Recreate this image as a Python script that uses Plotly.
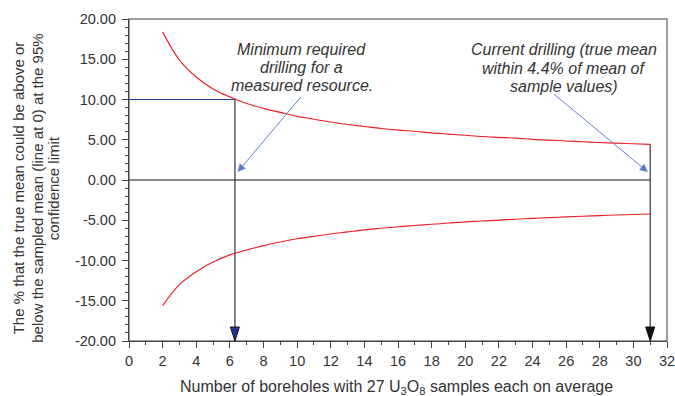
import plotly.graph_objects as go

# Data
boreholes = [2, 3, 4, 5, 6, 7, 8, 9, 10, 11, 12, 13, 14, 15, 16, 17, 18, 19, 20,
             21, 22, 23, 24, 25, 26, 27, 28, 29, 30, 31]
upper_pct = [18.4, 14.9, 12.8, 11.3, 10.3, 9.5, 8.9, 8.4, 7.9, 7.55, 7.2, 6.9, 6.65,
             6.4, 6.2, 6.05, 5.85, 5.7, 5.55, 5.4, 5.3, 5.2, 5.05, 4.95, 4.85, 4.75,
             4.65, 4.58, 4.5, 4.42]
lower_pct = [-15.6, -13.0, -11.4, -10.2, -9.3, -8.7, -8.15, -7.7, -7.3, -7.0, -6.7,
             -6.45, -6.2, -6.0, -5.8, -5.65, -5.5, -5.35, -5.2, -5.1, -4.98, -4.87,
             -4.77, -4.67, -4.58, -4.5, -4.42, -4.35, -4.28, -4.22]
min_boreholes = 6.3
min_pct = 10.0
current_boreholes = 31
current_pct = 4.42

x_ticks = list(range(0, 33, 2))
y_ticks = [-20, -15, -10, -5, 0, 5, 10, 15, 20]
y_ticktext = ["%.2f" % v for v in y_ticks]

ann1_lines = ["Minimum required", "drilling for a", "measured resource."]
ann2_lines = ["Current drilling (true mean", "within 4.4% of mean of", "sample values)"]
y_title_lines = ["The % that the true mean could be above or",
                 "below the sampled mean (line at 0) at the 95%",
                 "confidence limit"]
x_title = "Number of boreholes with 27 U<sub>3</sub>O<sub>8</sub> samples each on average"

RED = "#ee1c25"
DARK = "#333333"
NAVY = "#27348b"
LBLUE = "#5b80c8"
FONT = "Liberation Sans, Arial, sans-serif"

fig = go.Figure()

# zero line
fig.add_trace(go.Scatter(x=[0, current_boreholes], y=[0, 0], mode="lines",
                         line=dict(color="#111111", width=1), hoverinfo="skip"))
# blue horizontal to min requirement
fig.add_trace(go.Scatter(x=[0, min_boreholes], y=[min_pct, min_pct], mode="lines",
                         line=dict(color=NAVY, width=1.2), hoverinfo="skip"))
# vertical drop lines
fig.add_trace(go.Scatter(x=[min_boreholes, min_boreholes], y=[min_pct, -20], mode="lines",
                         line=dict(color=DARK, width=1.2), hoverinfo="skip"))
fig.add_trace(go.Scatter(x=[current_boreholes, current_boreholes], y=[current_pct, -20],
                         mode="lines", line=dict(color=DARK, width=1.2), hoverinfo="skip"))
# confidence curves
fig.add_trace(go.Scatter(x=boreholes, y=upper_pct, mode="lines", line_shape="spline",
                         line=dict(color=RED, width=1.1)))
fig.add_trace(go.Scatter(x=boreholes, y=lower_pct, mode="lines", line_shape="spline",
                         line=dict(color=RED, width=1.1)))

# arrowheads at bottom of drop lines
for xb, col in [(min_boreholes, NAVY), (current_boreholes, "#111111")]:
    fig.add_shape(type="path", xref="x", yref="y", xsizemode="pixel", ysizemode="pixel",
                  xanchor=xb, yanchor=-20, path="M-4.5,14 L4.5,14 L0,0 Z",
                  fillcolor=col, line=dict(color="#111111", width=1), layer="above")

# frame (top/right gray)
fig.add_shape(type="rect", xref="paper", yref="paper", x0=0, x1=1, y0=0, y1=1,
              line=dict(color="#7f7f7f", width=1.5), layer="below")

# italic callout texts, one annotation per line for tight spacing
ann1_y = [16.15, 14.0, 11.8]
ann2_y = [16.15, 13.85, 11.65]
for txt, yy in zip(ann1_lines, ann1_y):
    fig.add_annotation(x=10.27, y=yy, xref="x", yref="y", text="<i>" + txt + "</i>",
                       showarrow=False, xanchor="center", yanchor="middle",
                       font=dict(family=FONT, size=16, color=DARK))
for txt, yy in zip(ann2_lines, ann2_y):
    fig.add_annotation(x=25.86, y=yy, xref="x", yref="y", text="<i>" + txt + "</i>",
                       showarrow=False, xanchor="center", yanchor="middle",
                       font=dict(family=FONT, size=16, color=DARK))

# pointer arrows
fig.add_annotation(x=6.46, y=1.0, ax=10.3, ay=10.5, xref="x", yref="y", axref="x", ayref="y",
                   text="", showarrow=True, arrowhead=2, arrowsize=1.6, arrowwidth=1,
                   arrowcolor=LBLUE, standoff=0)
fig.add_annotation(x=30.86, y=1.0, ax=25.2, ay=10.8, xref="x", yref="y", axref="x", ayref="y",
                   text="", showarrow=True, arrowhead=2, arrowsize=1.6, arrowwidth=1,
                   arrowcolor=LBLUE, standoff=0)

# axis titles as annotations
for txt, xx in zip(y_title_lines, [-0.2058, -0.1716, -0.1407]):
    fig.add_annotation(x=xx, y=0.475, xref="paper", yref="paper", text=txt, textangle=-90,
                       showarrow=False, xanchor="center", yanchor="middle",
                       font=dict(family=FONT, size=15, color=DARK))
fig.add_annotation(x=0.498, y=-0.144, xref="paper", yref="paper", text=x_title,
                   showarrow=False, xanchor="center", yanchor="middle",
                   font=dict(family=FONT, size=16, color=DARK))

fig.update_layout(
    width=675, height=396,
    margin=dict(l=129, r=8, t=19, b=55, autoexpand=False),
    paper_bgcolor="white", plot_bgcolor="white",
    showlegend=False,
    font=dict(family=FONT, size=14.5, color=DARK),
    xaxis=dict(range=[0, 32], tickmode="array", tickvals=x_ticks, showgrid=False,
               zeroline=False, showline=True, linecolor="#444444", linewidth=1.2,
               ticks="outside", ticklen=6, tickcolor="#444444", tickwidth=1.2,
               minor=dict(dtick=1, tick0=0, ticks="outside", ticklen=3,
                          tickcolor="#444444", showgrid=False),
               tickfont=dict(size=14.5, color=DARK), automargin=False,
               ticklabeloverflow="allow"),
    yaxis=dict(range=[-20, 20], tickmode="array", tickvals=y_ticks, ticktext=y_ticktext,
               showgrid=False, zeroline=False, showline=True, linecolor="#444444",
               linewidth=1.2, ticks="outside", ticklen=6, tickcolor="#444444", tickwidth=1.2,
               minor=dict(dtick=1, tick0=0, ticks="outside", ticklen=3,
                          tickcolor="#444444", showgrid=False),
               tickfont=dict(size=14.5, color=DARK), ticklabelstandoff=3, automargin=False),
)

# remove the default 8px page margin so the 675x396 figure fills the window exactly
fig.write_html("out.html", config={"displayModeBar": False},
               post_script="document.body.style.margin='0';document.body.style.overflow='hidden';")
